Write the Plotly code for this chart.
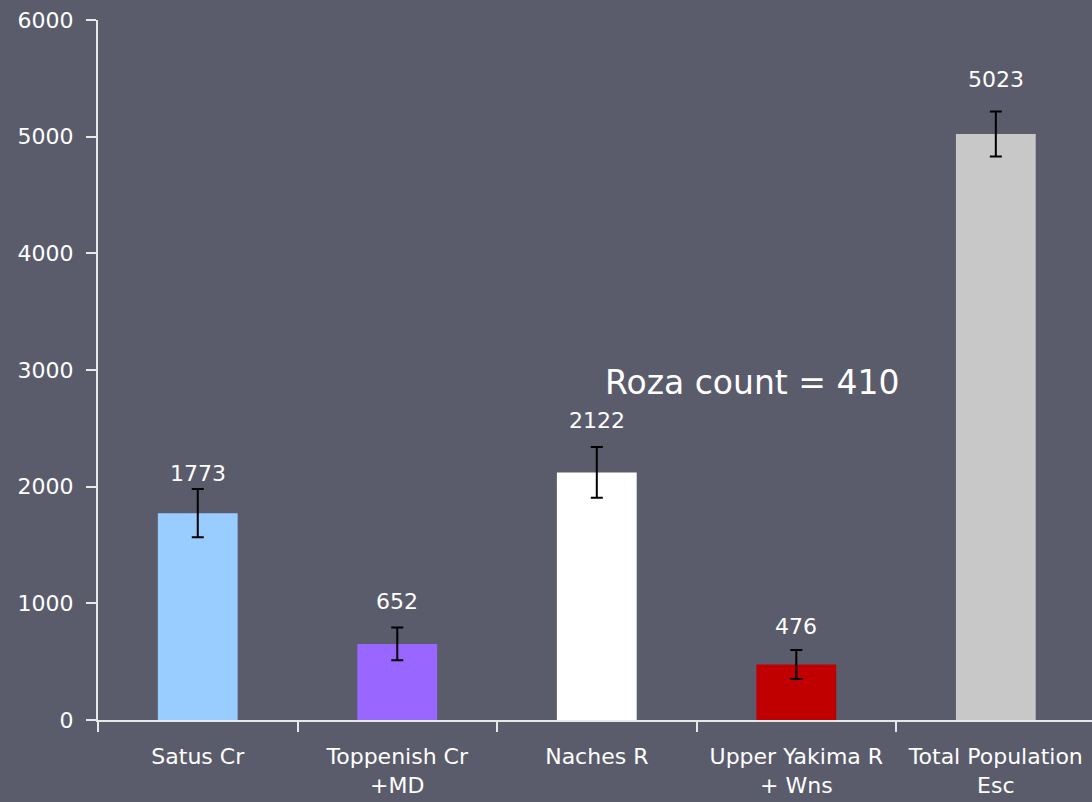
import plotly.graph_objects as go

categories = ["Satus Cr", "Toppenish Cr<br>+MD", "Naches R", "Upper Yakima R<br>+ Wns", "Total Population<br>Esc"]
values = [1773, 652, 2122, 476, 5023]
errors = [207, 140, 217, 124, 193]
bar_colors = ["#99CCFF", "#9966FF", "#FFFFFF", "#C00000", "#C8C8C8"]
y_ticks = [0, 1000, 2000, 3000, 4000, 5000, 6000]

BG = "#5a5c6b"
FONT = "DejaVu Sans"
FS = 22
label_shift_px = [40, 42, 52, 38, 54]

fig = go.Figure()
fig.add_trace(go.Bar(
    x=categories,
    y=values,
    width=0.4,
    marker=dict(color=bar_colors, line=dict(width=0)),
    error_y=dict(type="data", array=errors, visible=True, color="black", thickness=2, width=6),
    hoverinfo="skip",
))

for c, v, s in zip(categories, values, label_shift_px):
    fig.add_annotation(x=c, y=v, text=str(v), showarrow=False, yanchor="middle", yshift=s,
                       font=dict(family=FONT, size=FS, color="white"))

fig.add_annotation(x=2.78, y=2890, text="Roza count = 410", showarrow=False,
                   font=dict(family=FONT, size=33, color="white"))

fig.update_layout(
    width=1092, height=802,
    margin=dict(l=98, r=0, t=20, b=82),
    paper_bgcolor=BG, plot_bgcolor=BG,
    showlegend=False,
    font=dict(family=FONT, size=FS, color="white"),
    bargap=0.6,
)
fig.update_xaxes(
    type="category", range=[-0.5, 4.482],
    tickson="boundaries", ticks="outside", ticklen=10, tickwidth=2, tickcolor="#e8e8e8",
    showline=True, linecolor="#e8e8e8", linewidth=2, showgrid=False, zeroline=False,
    tickfont=dict(family=FONT, size=FS, color="white"), ticklabelstandoff=16,
)
fig.update_yaxes(
    range=[0, 6000], tickmode="array", tickvals=y_ticks,
    ticks="outside", ticklen=10, tickwidth=2, tickcolor="#e8e8e8",
    showline=True, linecolor="#e8e8e8", linewidth=2, showgrid=False, zeroline=False,
    tickfont=dict(family=FONT, size=FS, color="white"), ticklabelstandoff=8,
)

fig.write_html("out.html", config={"displayModeBar": False},
               post_script="document.body.style.margin='0';document.body.style.overflow='hidden';document.body.style.background='" + BG + "';")
